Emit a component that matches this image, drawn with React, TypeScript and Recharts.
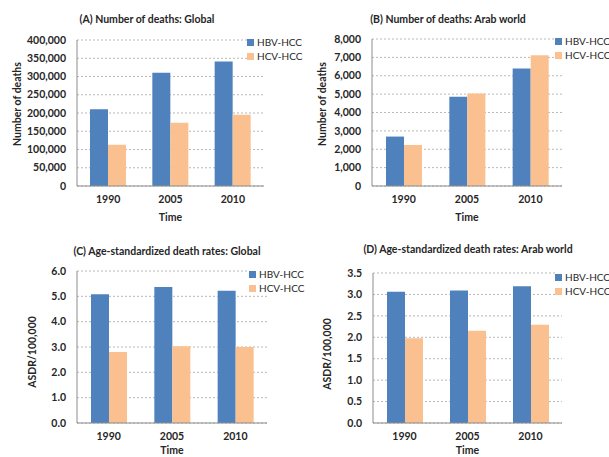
import { Bar, BarChart, CartesianGrid, Label, XAxis, YAxis } from "recharts";

const YEARS = ["1990", "2005", "2010"];

// deaths, absolute counts
const DEATHS_GLOBAL_HBV = [210000, 310000, 341000];
const DEATHS_GLOBAL_HCV = [113000, 173000, 195000];
const DEATHS_ARAB_HBV = [2690, 4860, 6400];
const DEATHS_ARAB_HCV = [2230, 5040, 7110];

// age-standardized death rates per 100,000
const ASDR_GLOBAL_HBV = [5.08, 5.37, 5.22];
const ASDR_GLOBAL_HCV = [2.8, 3.03, 3.0];
const ASDR_ARAB_HBV = [3.06, 3.09, 3.19];
const ASDR_ARAB_HCV = [1.98, 2.15, 2.29];

const TICKS_DEATHS_GLOBAL = [0, 50000, 100000, 150000, 200000, 250000, 300000, 350000, 400000];
const TICKS_DEATHS_ARAB = [0, 1000, 2000, 3000, 4000, 5000, 6000, 7000, 8000];
const TICKS_ASDR_GLOBAL = [0, 1, 2, 3, 4, 5, 6];
const TICKS_ASDR_ARAB = [0, 0.5, 1, 1.5, 2, 2.5, 3, 3.5];

const SERIES = [
  { key: "hbv", name: "HBV-HCC", color: "#4f81bd" },
  { key: "hcv", name: "HCV-HCC", color: "#fbc08f" },
];

const FONT = "Lato, 'Open Sans', sans-serif";
const INK = "#262626";
const GRID = "#b8b8b8";
const AXIS = "#8c8c8c";

const rows = (hbv: number[], hcv: number[]) =>
  YEARS.map((year, i) => ({ year, hbv: hbv[i], hcv: hcv[i] }));

const thousands = (v: number) => v.toLocaleString("en-US");
const oneDecimal = (v: number) => v.toFixed(1);

type PanelProps = {
  left: number;
  top: number;
  width: number;
  height: number;
  plot: { left: number; top: number; right: number; bottom: number };
  title: string;
  titleAt: [number, number];
  yTitle: string;
  yTitleAt: [number, number];
  xTitleY: number;
  legendAt: [number, number];
  data: { year: string; hbv: number; hcv: number }[];
  ticks: number[];
  format: (v: number) => string;
};

function Panel(p: PanelProps) {
  const xAxisHeight = 30;
  const plotCenterX = (p.plot.left + p.plot.right) / 2;
  return (
    <div style={{ position: "absolute", left: p.left, top: p.top, width: p.width, height: p.height }}>
      <BarChart
        width={p.width}
        height={p.height}
        data={p.data}
        barSize={18}
        barGap={0}
        margin={{
          top: p.plot.top,
          right: p.width - p.plot.right,
          bottom: p.height - p.plot.bottom - xAxisHeight,
          left: 0,
        }}
      >
        <CartesianGrid horizontal vertical={false} stroke={GRID} strokeDasharray="2 2" />
        <XAxis
          dataKey="year"
          height={xAxisHeight}
          tickLine={false}
          axisLine={{ stroke: AXIS }}
          tickMargin={4}
          tick={{ fill: INK, fontSize: 10.5, fontWeight: 700, fontFamily: FONT }}
        >
          <Label
            content={() => (
              <g>
                <text x={p.titleAt[0]} y={p.titleAt[1]} textAnchor="middle" dominantBaseline="central"
                  fill={INK} fontSize={10.5} fontWeight={700} fontFamily={FONT}>
                  {p.title}
                </text>
                <text x={plotCenterX} y={p.xTitleY} textAnchor="middle" dominantBaseline="central"
                  fill={INK} fontSize={10.5} fontWeight={700} fontFamily={FONT}>
                  Time
                </text>
              </g>
            )}
          />
        </XAxis>
        <YAxis
          width={p.plot.left}
          domain={[p.ticks[0], p.ticks[p.ticks.length - 1]]}
          ticks={p.ticks}
          interval={0}
          tickFormatter={p.format}
          tickLine={false}
          axisLine={{ stroke: AXIS }}
          tickMargin={5}
          tick={{ fill: INK, fontSize: 10.5, fontWeight: 700, fontFamily: FONT }}
        >
          <Label
            content={() => (
              <text x={p.yTitleAt[0]} y={p.yTitleAt[1]} textAnchor="middle" dominantBaseline="central"
                transform={`rotate(-90 ${p.yTitleAt[0]} ${p.yTitleAt[1]})`}
                fill={INK} fontSize={10.5} fontWeight={700} fontFamily={FONT}>
                {p.yTitle}
              </text>
            )}
          />
        </YAxis>
        {SERIES.map((s) => (
          <Bar key={s.key} dataKey={s.key} name={s.name} fill={s.color} isAnimationActive={false} />
        ))}
      </BarChart>
      <div
        style={{
          position: "absolute",
          left: p.legendAt[0],
          top: p.legendAt[1],
          background: "#fff",
          fontFamily: FONT,
          fontSize: 10,
          color: INK,
          lineHeight: "13.5px",
          whiteSpace: "nowrap",
          paddingRight: 2,
        }}
      >
        {SERIES.map((s) => (
          <div key={s.key} style={{ display: "flex", alignItems: "center" }}>
            <span style={{ display: "inline-block", width: 7, height: 7, background: s.color, marginRight: 3 }} />
            {s.name}
          </div>
        ))}
      </div>
    </div>
  );
}

export default function App() {
  return (
    <div style={{ position: "absolute", left: 0, top: 0, width: 609, height: 457, background: "#fff", overflow: "hidden" }}>
      <Panel
        left={0} top={0} width={305} height={225}
        plot={{ left: 77, top: 40, right: 264, bottom: 186 }}
        title="(A) Number of deaths: Global" titleAt={[147, 19]}
        yTitle="Number of deaths" yTitleAt={[17, 104]}
        xTitleY={217}
        legendAt={[247, 36]}
        data={rows(DEATHS_GLOBAL_HBV, DEATHS_GLOBAL_HCV)}
        ticks={TICKS_DEATHS_GLOBAL}
        format={thousands}
      />
      <Panel
        left={305} top={0} width={304} height={225}
        plot={{ left: 67, top: 39, right: 257, bottom: 186 }}
        title="(B) Number of deaths: Arab world" titleAt={[143, 19]}
        yTitle="Number of deaths" yTitleAt={[17, 104]}
        xTitleY={217}
        legendAt={[250, 35]}
        data={rows(DEATHS_ARAB_HBV, DEATHS_ARAB_HCV)}
        ticks={TICKS_DEATHS_ARAB}
        format={thousands}
      />
      <Panel
        left={0} top={225} width={305} height={232}
        plot={{ left: 77, top: 46, right: 267, bottom: 198 }}
        title="(C) Age-standardized death rates: Global" titleAt={[167, 26]}
        yTitle="ASDR/100,000" yTitleAt={[32, 127]}
        xTitleY={225}
        legendAt={[249, 43]}
        data={rows(ASDR_GLOBAL_HBV, ASDR_GLOBAL_HCV)}
        ticks={TICKS_ASDR_GLOBAL}
        format={oneDecimal}
      />
      <Panel
        left={305} top={225} width={304} height={232}
        plot={{ left: 68, top: 48, right: 257, bottom: 198 }}
        title="(D) Age-standardized death rates: Arab world" titleAt={[163, 24]}
        yTitle="ASDR/100,000" yTitleAt={[22, 129]}
        xTitleY={225}
        legendAt={[250, 46]}
        data={rows(ASDR_ARAB_HBV, ASDR_ARAB_HCV)}
        ticks={TICKS_ASDR_ARAB}
        format={oneDecimal}
      />
    </div>
  );
}
